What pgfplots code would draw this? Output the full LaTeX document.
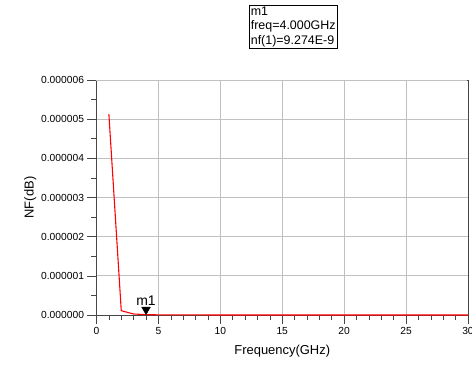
\documentclass[border=0pt]{standalone}
\usepackage{pgfplots}
\pgfplotsset{compat=1.18}
\usepackage{fontspec}
\setmainfont{Liberation Sans}
\definecolor{gridc}{RGB}{192,192,192}
\definecolor{axc}{RGB}{70,70,70}
\begin{document}
\begin{tikzpicture}
\useasboundingbox (-96.5bp,-54bp) rectangle (375.5bp,315bp);
\begin{axis}[
  at={(0,0)}, anchor=south west,
  scale only axis, width=371.5bp, height=235bp,
  xmin=0, xmax=30, ymin=0, ymax=6e-6,
  xtick={0,5,...,30},
  ytick={0,1e-6,2e-6,3e-6,4e-6,5e-6,6e-6},
  yticklabels={0.000000,0.000001,0.000002,0.000003,0.000004,0.000005,0.000006},
  scaled y ticks=false,
  minor x tick num=4, minor y tick num=1,
  tick align=outside, xtick pos=bottom, ytick pos=left,
  major tick length=9bp, minor tick length=5bp,
  every tick/.style={axc, line width=0.6pt},
  grid=major, major grid style={gridc, line width=0.8pt},
  axis line style={axc, line width=1pt},
  /pgf/number format/assume math mode=true,
  tick label style={font=\fontsize{10.3}{12}\selectfont},
  xlabel={Frequency(GHz)}, ylabel={NF(dB)},
  label style={font=\fontsize{13}{15}\selectfont},
  xlabel style={yshift=-3bp},
  ylabel style={yshift=-2bp},
  clip=false,
  after end axis/.code={
    \draw[gridc, line width=1pt] (rel axis cs:0,1) -- (rel axis cs:0.997,1);
  },
]
\addplot[red, line width=1.1pt] coordinates {
  (1,5.13e-6) (2,0.11e-6) (3,0.025e-6) (4,9.274e-9) (5,4e-9) (6,2.5e-9)
  (7,1.8e-9) (8,1.4e-9) (9,1.2e-9) (10,1e-9) (11,0.9e-9) (12,0.8e-9)
  (13,0.7e-9) (14,0.65e-9) (15,0.6e-9) (16,0.55e-9) (17,0.5e-9) (18,0.48e-9)
  (19,0.45e-9) (20,0.42e-9) (21,0.4e-9) (22,0.38e-9) (23,0.36e-9) (24,0.35e-9)
  (25,0.33e-9) (26,0.32e-9) (27,0.31e-9) (28,0.3e-9) (29,0.29e-9) (30,0.28e-9)
};
\addplot[black, only marks, mark=triangle*, mark size=5bp,
  mark options={yshift=5bp, rotate=180}] coordinates {(4,9.274e-9)};
\node[font=\fontsize{14}{16}\selectfont, anchor=base, inner sep=0pt] at (axis cs:4,0.25e-6) {m1};
\end{axis}
\node[draw=black, line width=0.7pt, anchor=north west, align=left, inner sep=1.5bp,
  font=\fontsize{12.5}{14.5}\selectfont] at (152.5bp,310bp)
  {m1\\freq=4.000GHz\\nf(1)=9.274E-9};
\end{tikzpicture}
\end{document}
